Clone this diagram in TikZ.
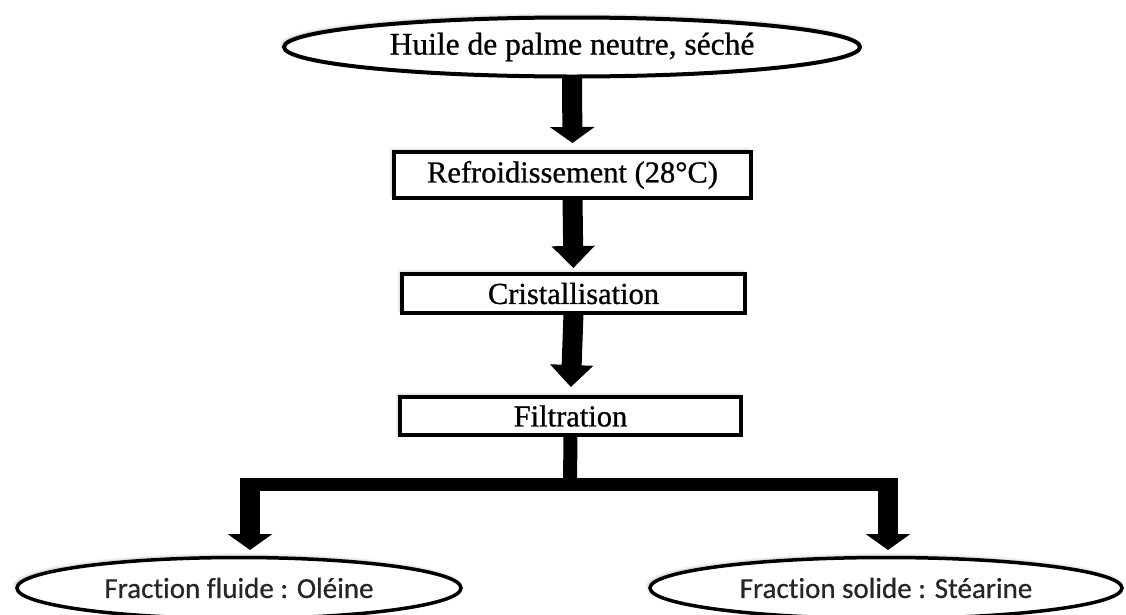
\documentclass[tikz,border=0pt]{standalone}
\usepackage{fontspec}
\setmainfont{Liberation Serif}[FakeBold=0.8]
\newfontfamily\calib{Carlito}[Ligatures=NoCommon, FakeBold=0.6]
\usetikzlibrary{arrows.meta,shapes.geometric,shadows.blur}

\begin{document}
\begin{tikzpicture}[x=1pt,y=-1pt,
  softshadow/.style={blur shadow={shadow xshift=-2pt, shadow yshift=2pt, shadow blur steps=6, shadow blur radius=3pt, shadow opacity=25}},
  stepbox/.style={rectangle, draw=black, line width=4pt, fill=white, inner sep=0pt, outer sep=0pt,
    font=\fontsize{30.5}{34}\selectfont, softshadow},
  source/.style={ellipse, draw=black, line width=4pt, fill=white, inner sep=0pt, outer sep=0pt,
    font=\fontsize{31.5}{35}\selectfont, softshadow},
  product/.style={ellipse, draw=black, line width=3.5pt, fill=white, inner sep=0pt, outer sep=0pt,
    font=\calib\fontsize{29}{32}\selectfont, text=black!85, softshadow},
  flow/.style={line width=20pt, -{Triangle[width=44pt,length=16pt]}},
  flowlong/.style={line width=20pt, -{Triangle[width=42pt,length=22pt]}},
]
\useasboundingbox (0,0) rectangle (1126,614);

% process steps
\node[source, minimum width=576pt, minimum height=59pt] (oil) at (572,47) {Huile de palme neutre, séché};
\node[stepbox, minimum width=357pt, minimum height=46pt] (cool) at (572.5,175) {Refroidissement (28°C)};
\node[stepbox, minimum width=343pt, minimum height=39pt] (cryst) at (573.5,293.5) {Cristallisation};
\node[stepbox, minimum width=341pt, minimum height=38pt] (filt) at (570.5,416) {Filtration};

% products
\node[product, minimum width=444pt, minimum height=61pt] (olein) at (239,588) {Fraction fluide : Oléine};
\node[product, minimum width=472pt, minimum height=61pt] (stearin) at (886,588) {Fraction solide : Stéarine};

% main flow
\draw[flow, shorten >=9pt] (oil.south) -- (cool.north);
\draw[flowlong, shorten >=6pt] (cool.south) -- (cryst.north);
\draw[flowlong, shorten >=10pt] (cryst.south) -- (filt.north);

% split after filtration
\coordinate (split) at (570,484);
\coordinate (barL) at (240,484);
\coordinate (barR) at (898,484);
\coordinate (dropL) at (250,478);
\coordinate (dropR) at (888,478);
\draw[line width=14pt] (filt.south) -- (split);
\draw[line width=13pt] (barL) -- (barR);
\draw[flow, shorten >=7.5pt] (dropL) -- (dropL |- olein.north);
\draw[flow, shorten >=7.5pt] (dropR) -- (dropR |- stearin.north);
\end{tikzpicture}
\end{document}
